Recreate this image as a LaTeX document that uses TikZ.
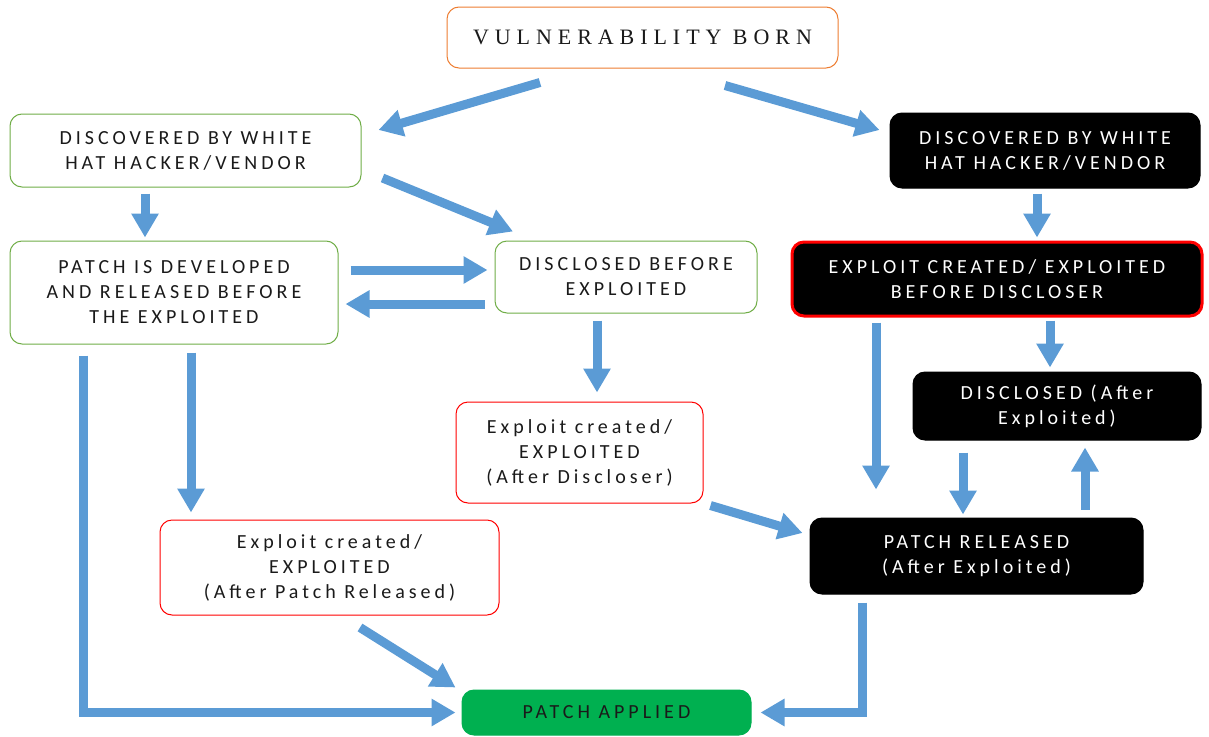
\documentclass[tikz,border=0pt]{standalone}
\usepackage{fontspec}
\setmainfont{Carlito}[LetterSpace=20]
\newfontfamily\topfont{Liberation Serif}[LetterSpace=27]
\usetikzlibrary{arrows.meta,calc}
\definecolor{arrowblue}{HTML}{5B9BD5}
\definecolor{greenborder}{HTML}{70AD47}
\definecolor{orangeborder}{HTML}{ED7D31}
\definecolor{applied}{HTML}{00B050}
\definecolor{textdark}{HTML}{1A1A1A}
\tikzset{
  box/.style={draw, rounded corners=12pt, align=center, inner sep=0pt, line width=1pt,
    font=\fontsize{20}{25}\selectfont, text=textdark},
  whitebox/.style={box, draw=greenborder, fill=white},
  blackbox/.style={box, draw=black, fill=black, text=white},
  redbox/.style={box, draw=red, fill=white},
  flow/.style={draw=arrowblue, line width=9pt, -{Triangle[length=24pt,width=26pt]}},
}
\begin{document}
\begin{tikzpicture}[x=1pt,y=-1pt]
\useasboundingbox (0,0) rectangle (1209,736);
\node[box, draw=orangeborder, minimum width=391pt, minimum height=61pt, font=\topfont\fontsize{22}{26}\selectfont] (born) at (642.5,37.5) {VULNERABILITY BORN};
\node[whitebox, minimum width=351pt, minimum height=73pt] (discL) at (185.5,150.5) {DISCOVERED BY WHITE\\HAT HACKER/VENDOR};
\node[blackbox, minimum width=310pt, minimum height=75pt] (discR) at (1045,150.5) {DISCOVERED BY WHITE\\HAT HACKER/VENDOR};
\node[whitebox, minimum width=328pt, minimum height=103pt] (patchdev) at (174,292.5) {PATCH IS DEVELOPED\\AND RELEASED BEFORE\\THE EXPLOITED};
\node[whitebox, minimum width=262pt, minimum height=72pt] (discbefore) at (626,277) {DISCLOSED BEFORE\\EXPLOITED};
\node[blackbox, draw=red, line width=3pt, minimum width=410pt, minimum height=74pt] (expbefore) at (997,279) {EXPLOIT CREATED/ EXPLOITED\\BEFORE DISCLOSER};
\node[blackbox, minimum width=288pt, minimum height=68pt] (discafter) at (1057,406) {DISCLOSED (After\\Exploited)};
\node[redbox, minimum width=247pt, minimum height=101pt] (expafterdisc) at (579.5,452.5) {Exploit created/\\EXPLOITED\\(After Discloser)};
\node[redbox, minimum width=339pt, minimum height=95pt] (expafterpatch) at (329.5,567.5) {Exploit created/\\EXPLOITED\\(After Patch Released)};
\node[blackbox, minimum width=333pt, minimum height=76pt] (patchrel) at (976.5,556) {PATCH RELEASED\\(After Exploited)};
\node[box, draw=applied, fill=applied, minimum width=289pt, minimum height=45pt] (applied) at (606.5,712.5) {PATCH APPLIED};

\draw[flow] ($(born.south)+(-102.5,14)$) -- ($(discL.east)+(17,-20.5)$);
\draw[flow] ($(born.south)+(82.5,17)$) -- ($(discR.west)+(-10,-20.5)$);
\draw[flow] ($(discL.south)+(-40.5,6)$) -- ($(patchdev.north)+(-29,-3)$);
\draw[flow] ($(discR.south)+(-8,5)$) -- ($(expbefore.north)+(40,-3)$);
\draw[flow] ($(discL.east)+(21,27.5)$) -- ($(discbefore.north)+(-113,-9)$);
\draw[flow] ($(patchdev.east)+(12,-22.5)$) -- ($(discbefore.west)+(-7,-7)$);
\draw[flow] ($(discbefore.west)+(-10,27)$) -- ($(patchdev.east)+(7,11.5)$);
\draw[flow] ($(discbefore.south)+(-29,7)$) -- ($(expafterdisc.north)+(17.5,-9)$);
\draw[flow] ($(patchdev.south)+(17,8)$) -- ($(expafterpatch.north)+(-138.5,-7)$);
\draw[flow] ($(expbefore.south)+(53,3)$) -- ($(discafter.north)+(-7,-4)$);
\draw[flow] ($(expbefore.south)+(-121,5)$) -- ($(patchrel.north)+(-100.5,-28)$);
\draw[flow] ($(discafter.south)+(-94,12)$) -- ($(patchrel.north)+(-13.5,-3)$);
\draw[flow] ($(patchrel.north)+(108.5,-8)$) -- ($(discafter.south)+(28,7)$);
\draw[flow] ($(expafterdisc.south east)+(7,2)$) -- ($(patchrel.west)+(-7,-23)$);
\draw[flow] ($(expafterpatch.south)+(30.5,12)$) -- ($(applied.north west)+(-6,-2)$);
\draw[flow] ($(patchdev.south west)+(74,11)$) |- ($(applied.west)+(-6,0)$);
\draw[flow] ($(patchrel.south)+(-114.5,8)$) |- ($(applied.east)+(9,0)$);
\end{tikzpicture}
\end{document}
